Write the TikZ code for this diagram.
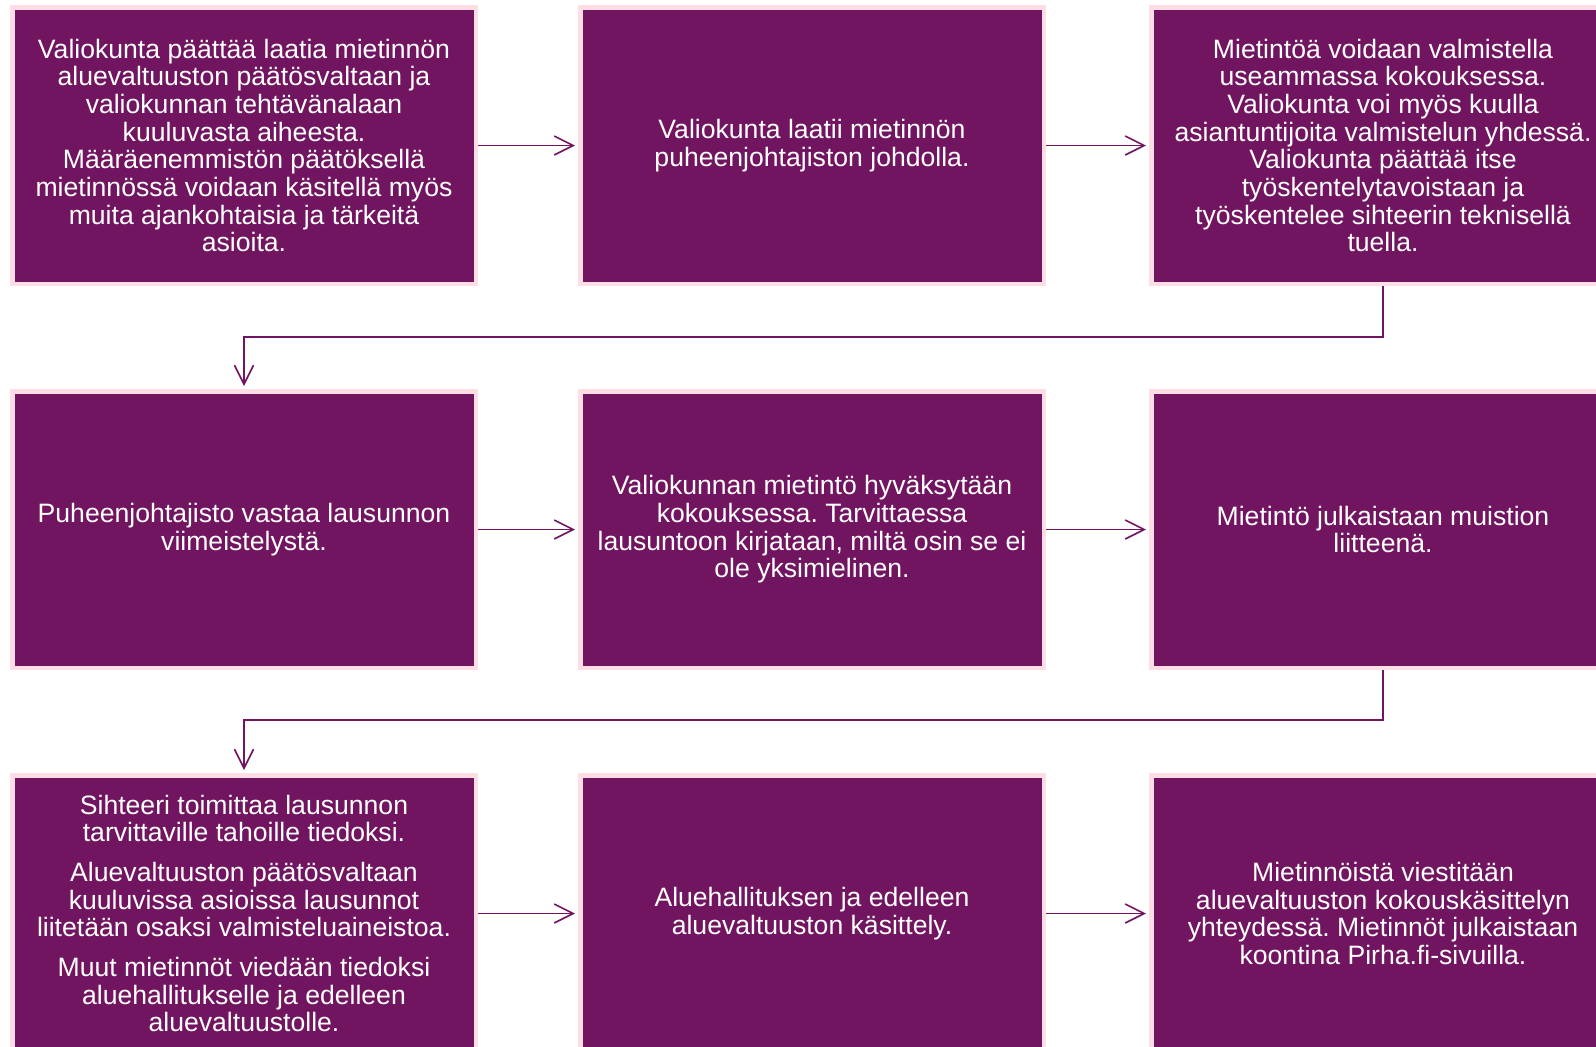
\documentclass[tikz,border=0pt]{standalone}
\usepackage{fontspec}
\setmainfont{Liberation Sans}
\usepackage{xcolor}
\usetikzlibrary{arrows.meta}
\definecolor{pirhapurple}{HTML}{721560}
\definecolor{pirhapink}{HTML}{FFDDE4}
\frenchspacing

\begin{document}
\begin{tikzpicture}[x=0.5pt,y=-0.5pt,
  stage/.style={draw=pirhapink,line width=2.25pt,fill=pirhapurple,text=white,
    minimum width=231.75pt,minimum height=138.25pt,inner sep=0pt,align=center,
    font=\fontsize{13.3pt}{13.85pt}\selectfont},
  flow/.style={draw=pirhapurple,line width=0.8pt,
    -{Straight Barb[length=9.5pt,width=9.5pt]},shorten >=1.5pt}]
  \useasboundingbox (0,0) rectangle (1596,1046);
  \clip (0,0) rectangle (1596,1046);

  \node[stage] (s1) at (244,145.5) {Valiokunta päättää laatia mietinnön\\aluevaltuuston päätösvaltaan ja\\valiokunnan tehtävänalaan\\kuuluvasta aiheesta.\\Määräenemmistön päätöksellä\\mietinnössä voidaan käsitellä myös\\muita ajankohtaisia ja tärkeitä\\asioita.};
  \node[stage] (s2) at (812,145.5) {Valiokunta laatii mietinnön\\puheenjohtajiston johdolla.};
  \node[stage] (s3) at (1383,145.5) {Mietintöä voidaan valmistella\\useammassa kokouksessa.\\Valiokunta voi myös kuulla\\asiantuntijoita valmistelun yhdessä.\\Valiokunta päättää itse\\työskentelytavoistaan ja\\työskentelee sihteerin teknisellä\\tuella.};

  \node[stage] (s4) at (244,529.5) {Puheenjohtajisto vastaa lausunnon\\viimeistelystä.};
  \node[stage] (s5) at (812,529.5) {Valiokunnan mietintö hyväksytään\\kokouksessa. Tarvittaessa\\lausuntoon kirjataan, miltä osin se ei\\ole yksimielinen.};
  \node[stage] (s6) at (1383,529.5) {Mietintö julkaistaan muistion\\liitteenä.};

  \node[stage] (s7) at (244,913.5) {Sihteeri toimittaa lausunnon\\tarvittaville tahoille tiedoksi.\\[6pt]Aluevaltuuston päätösvaltaan\\kuuluvissa asioissa lausunnot\\liitetään osaksi valmisteluaineistoa.\\[6pt]Muut mietinnöt viedään tiedoksi\\aluehallitukselle ja edelleen\\aluevaltuustolle.};
  \node[stage] (s8) at (812,913.5) {Aluehallituksen ja edelleen\\aluevaltuuston käsittely.};
  \node[stage] (s9) at (1383,913.5) {Mietinnöistä viestitään\\aluevaltuuston kokouskäsittelyn\\yhteydessä. Mietinnöt julkaistaan\\koontina Pirha.fi-sivuilla.};

  \draw[flow] (s1) -- (s2);
  \draw[flow] (s2) -- (s3);
  \draw[flow] (s3.south) -- ++(0,51) -| (s4.north);
  \draw[flow] (s4) -- (s5);
  \draw[flow] (s5) -- (s6);
  \draw[flow] (s6.south) -- ++(0,50) -| (s7.north);
  \draw[flow] (s7) -- (s8);
  \draw[flow] (s8) -- (s9);
\end{tikzpicture}
\end{document}
